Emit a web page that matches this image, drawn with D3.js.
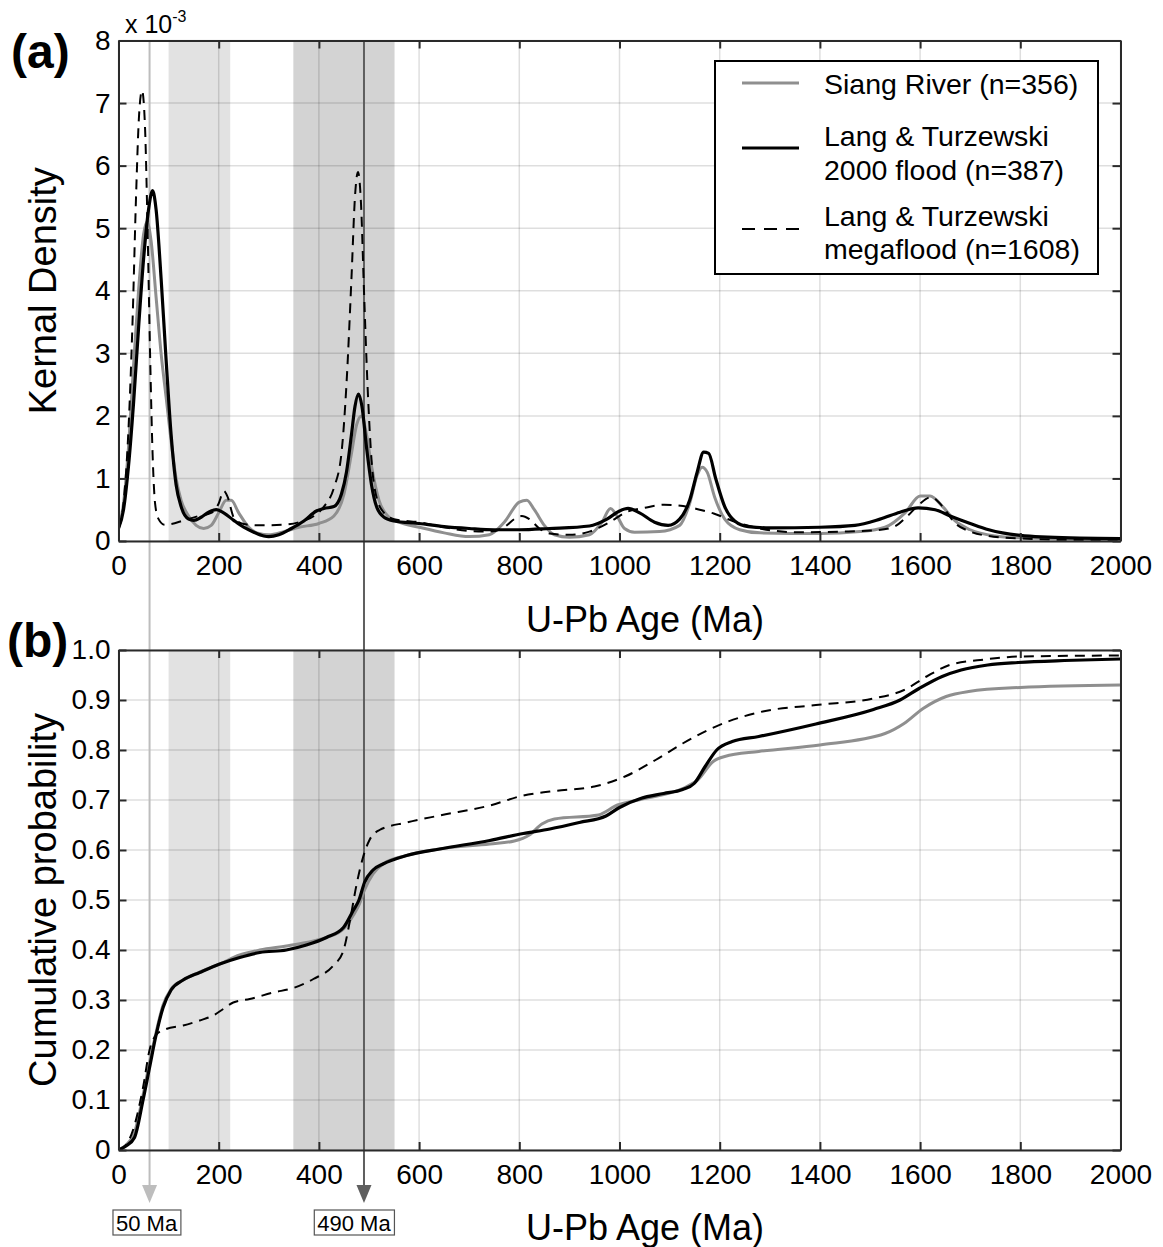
<!DOCTYPE html>
<html><head><meta charset="utf-8">
<script src="https://cdn.jsdelivr.net/npm/d3@7"></script>
<style>
body{margin:0;background:#fff;}
text{font-family:"Liberation Sans",Arial,Helvetica,sans-serif;fill:#000;}
</style>
</head><body>
<svg id="c" width="1163" height="1247"></svg>
<script>
// ---------- data ----------
const xTickValues = [0,200,400,600,800,1000,1200,1400,1600,1800,2000];
const kdeTickValues = [0,1,2,3,4,5,6,7,8];
const cdfTickValues = [0,0.1,0.2,0.3,0.4,0.5,0.6,0.7,0.8,0.9,1.0];
const cdfTickLabels = ["0","0.1","0.2","0.3","0.4","0.5","0.6","0.7","0.8","0.9","1.0"];
const bandStart = [100, 349];
const bandEnd = [223, 551];
const refAges = [62, 490];
const refLabels = ["50 Ma", "490 Ma"];
const seriesNames = ["Siang River (n=356)", "Lang & Turzewski\n2000 flood (n=387)", "Lang & Turzewski\nmegaflood (n=1608)"];

// Kernel density (x 10^-3)
const siangKdeAge = [0,10,20,30,40,50,57,65,75,85,95,105,115,125,140,155,170,185,200,215,225,240,260,280,300,330,360,400,430,450,465,475,485,495,505,520,540,560,600,650,700,740,770,800,815,830,850,870,900,940,965,982,995,1010,1030,1080,1120,1140,1155,1165,1175,1190,1210,1240,1280,1400,1480,1530,1570,1600,1620,1645,1670,1700,1750,1800,1900,2000];
const siangKde    = [0.2,0.6,1.5,2.8,4.0,4.9,5.1,4.8,3.9,3.0,2.3,1.6,1.0,0.65,0.4,0.25,0.2,0.25,0.45,0.65,0.65,0.45,0.22,0.12,0.1,0.15,0.22,0.28,0.4,0.75,1.4,1.85,2.0,1.7,1.2,0.65,0.38,0.3,0.22,0.13,0.07,0.1,0.3,0.62,0.65,0.5,0.25,0.1,0.06,0.1,0.3,0.52,0.4,0.2,0.14,0.15,0.25,0.6,1.05,1.18,1.1,0.7,0.35,0.18,0.13,0.12,0.15,0.22,0.45,0.72,0.72,0.55,0.32,0.18,0.08,0.05,0.03,0.02];

const floodKdeAge = [0,10,20,30,40,50,60,68,75,85,95,105,115,125,140,150,165,180,195,210,230,250,270,290,300,320,345,370,395,410,430,445,455,465,472,479,486,495,505,515,530,550,600,650,700,750,800,860,940,975,1000,1017,1040,1070,1097,1120,1140,1155,1168,1178,1192,1210,1230,1257,1300,1400,1470,1520,1560,1596,1630,1660,1700,1737,1800,1900,2000];
const floodKde    = [0.2,0.5,1.2,2.2,3.4,4.5,5.3,5.6,5.3,4.2,2.9,1.7,0.9,0.55,0.35,0.33,0.38,0.46,0.5,0.45,0.33,0.22,0.14,0.08,0.07,0.1,0.2,0.32,0.48,0.52,0.55,0.75,1.1,1.7,2.15,2.35,2.15,1.5,0.9,0.55,0.38,0.32,0.28,0.23,0.2,0.18,0.18,0.2,0.24,0.35,0.48,0.52,0.45,0.3,0.25,0.35,0.65,1.1,1.42,1.4,1.0,0.55,0.32,0.23,0.21,0.22,0.25,0.35,0.46,0.53,0.5,0.4,0.28,0.18,0.09,0.05,0.04];

const megaKdeAge = [0,10,20,28,35,41,47,53,58,63,68,73,80,92,105,130,160,185,200,210,218,230,250,280,330,360,390,410,430,445,455,465,472,478,484,490,497,505,515,530,550,600,650,700,740,770,790,805,820,840,860,900,940,980,1013,1050,1089,1127,1160,1188,1226,1280,1356,1450,1508,1546,1575,1600,1622,1645,1668,1700,1737,1800,1900,2000];
const megaKde    = [0.2,0.6,1.8,3.5,5.5,6.8,7.2,6.6,5.0,3.0,1.4,0.6,0.35,0.26,0.27,0.33,0.4,0.45,0.6,0.8,0.7,0.38,0.27,0.25,0.26,0.3,0.4,0.55,0.85,1.4,2.5,4.2,5.5,5.9,5.4,4.0,2.5,1.3,0.7,0.45,0.35,0.3,0.22,0.16,0.15,0.22,0.35,0.4,0.35,0.2,0.12,0.1,0.15,0.3,0.46,0.53,0.58,0.56,0.5,0.44,0.32,0.2,0.14,0.15,0.17,0.22,0.4,0.6,0.7,0.55,0.3,0.15,0.08,0.04,0.02,0.02];

// Cumulative probability
const siangCdfAge = [0,15,32,49,62,75,89,105,129,162,202,242,282,335,375,415,449,469,480,491,508,528,575,641,741,790,820,845,870,958,996,1042,1126,1156,1187,1210,1278,1400,1530,1568,1606,1652,1697,1800,2000];
const siangCdf    = [0,0.01,0.035,0.11,0.175,0.235,0.29,0.322,0.34,0.356,0.372,0.39,0.4,0.408,0.415,0.425,0.442,0.47,0.49,0.52,0.552,0.572,0.589,0.602,0.612,0.618,0.63,0.652,0.662,0.67,0.69,0.701,0.723,0.74,0.777,0.787,0.797,0.81,0.833,0.853,0.883,0.907,0.917,0.925,0.93];

const floodCdfAge = [0,15,32,49,62,75,89,105,129,162,202,242,282,335,375,415,449,469,480,491,508,528,575,641,741,808,861,920,973,1000,1042,1088,1126,1149,1171,1194,1225,1278,1392,1507,1560,1598,1644,1682,1735,1796,1888,2000];
const floodCdf    = [0,0.008,0.025,0.1,0.165,0.23,0.285,0.32,0.34,0.355,0.372,0.385,0.395,0.4,0.41,0.425,0.445,0.48,0.5,0.535,0.56,0.572,0.589,0.602,0.619,0.633,0.642,0.655,0.668,0.685,0.703,0.713,0.721,0.733,0.767,0.8,0.817,0.827,0.852,0.881,0.9,0.923,0.947,0.96,0.97,0.975,0.979,0.982];

const megaCdfAge = [0,15,29,49,62,75,95,129,162,189,209,229,262,309,349,389,429,449,462,475,488,501,521,575,641,741,808,861,950,1011,1072,1126,1179,1217,1286,1392,1507,1568,1613,1659,1720,1800,2000];
const megaCdf    = [0,0.01,0.04,0.125,0.2,0.23,0.242,0.249,0.259,0.269,0.282,0.295,0.302,0.315,0.324,0.342,0.369,0.399,0.459,0.53,0.585,0.62,0.64,0.655,0.669,0.689,0.709,0.717,0.727,0.747,0.78,0.813,0.841,0.857,0.877,0.89,0.903,0.92,0.947,0.97,0.98,0.987,0.989];

// ---------- styles ----------
const seriesStyle = [
  {color:"#8f8f8f", width:3, dash:null},
  {color:"#000", width:3.2, dash:null},
  {color:"#000", width:2, dash:"10,7"}
];
const refColors = ["#bdbdbd","#5f5f5f"];

// ---------- layout ----------
const svg = d3.select("#c");
const L = 118.5, R = 1120.5;
const aTop = 40.5, aBot = 541;
const bTop = 650, bBot = 1150;
const x = d3.scaleLinear([0,2000],[L,R]);
const yA = d3.scaleLinear([0,8],[aBot,aTop]);
const yB = d3.scaleLinear([0,1],[bBot,bTop]);

const defs = svg.append("defs");
defs.append("clipPath").attr("id","clipA").append("rect").attr("x",L).attr("y",aTop).attr("width",R-L).attr("height",aBot-aTop);
defs.append("clipPath").attr("id","clipB").append("rect").attr("x",L).attr("y",bTop).attr("width",R-L).attr("height",bBot-bTop);

function panelBackground(y, top, bot, yTicks){
  const g = svg.append("g");
  bandStart.forEach((s,i)=>{
    g.append("rect").attr("x",x(s)).attr("y",top).attr("width",x(bandEnd[i])-x(s)).attr("height",bot-top)
      .attr("fill", i===0 ? "#e2e2e2" : "#d3d3d3");
  });
  xTickValues.forEach(v=>{
    g.append("line").attr("x1",x(v)).attr("x2",x(v)).attr("y1",top).attr("y2",bot)
      .attr("stroke","#000").attr("stroke-opacity",0.13).attr("stroke-width",1.5);
  });
  yTicks.forEach(v=>{
    g.append("line").attr("x1",L).attr("x2",R).attr("y1",y(v)).attr("y2",y(v))
      .attr("stroke","#000").attr("stroke-opacity",0.13).attr("stroke-width",1.5);
  });
}
panelBackground(yA, aTop, aBot, kdeTickValues);
panelBackground(yB, bTop, bBot, cdfTickValues);

// reference lines + arrows
const arrowTip = 1203, arrowBase = 1185;
const labelShift = [-3, -10];
refAges.forEach((a,i)=>{
  const xx = x(a);
  svg.append("line").attr("x1",xx).attr("x2",xx).attr("y1",aTop).attr("y2",arrowBase+2)
    .attr("stroke",refColors[i]).attr("stroke-width",2);
  svg.append("path").attr("d",`M${xx-7.5},${arrowBase}L${xx+7.5},${arrowBase}L${xx},${arrowTip}Z`).attr("fill",refColors[i]);
  const t = svg.append("text").attr("x",xx+labelShift[i]).attr("y",1230.5).attr("text-anchor","middle")
    .attr("font-size",22).text(refLabels[i]);
  const bb = t.node().getBBox();
  svg.insert("rect","text").attr("x",bb.x-3).attr("y",1210).attr("width",bb.width+6).attr("height",25)
    .attr("fill","#fff").attr("stroke","#555").attr("stroke-width",1.2);
});

// curves
function drawLines(ages, vals, y, clip, st){
  const data = ages.map((a,i)=>[a, vals[i]]);
  const line = d3.line().x(d=>x(d[0])).y(d=>y(d[1])).curve(d3.curveMonotoneX);
  svg.append("path").datum(data).attr("d",line).attr("fill","none")
    .attr("stroke",st.color).attr("stroke-width",st.width).attr("stroke-dasharray",st.dash)
    .attr("stroke-linejoin","round").attr("clip-path",`url(#${clip})`);
}
drawLines(siangKdeAge, siangKde, yA, "clipA", seriesStyle[0]);
drawLines(megaKdeAge, megaKde, yA, "clipA", seriesStyle[2]);
drawLines(floodKdeAge, floodKde, yA, "clipA", seriesStyle[1]);
drawLines(siangCdfAge, siangCdf, yB, "clipB", seriesStyle[0]);
drawLines(megaCdfAge, megaCdf, yB, "clipB", seriesStyle[2]);
drawLines(floodCdfAge, floodCdf, yB, "clipB", seriesStyle[1]);

// axes
function axes(y, top, bot, yTicks, yFmt){
  const gb = svg.append("g").attr("transform",`translate(0,${bot})`)
    .call(d3.axisBottom(x).tickValues(xTickValues).tickSizeInner(-8).tickSizeOuter(0).tickPadding(14).tickFormat(d3.format("d")));
  const gt = svg.append("g").attr("transform",`translate(0,${top})`)
    .call(d3.axisTop(x).tickValues(xTickValues).tickSizeInner(-8).tickSizeOuter(0).tickFormat(""));
  const gl = svg.append("g").attr("transform",`translate(${L},0)`)
    .call(d3.axisLeft(y).tickValues(yTicks).tickSizeInner(-8).tickSizeOuter(0).tickPadding(8).tickFormat(yFmt));
  const gr = svg.append("g").attr("transform",`translate(${R},0)`)
    .call(d3.axisRight(y).tickValues(yTicks).tickSizeInner(-8).tickSizeOuter(0).tickFormat(""));
  [gb,gt,gl,gr].forEach(g=>{
    g.select(".domain").attr("stroke","#2a2a2a").attr("stroke-width",2);
    g.selectAll(".tick line").attr("stroke","#2a2a2a").attr("stroke-width",2);
    g.selectAll("text").attr("font-size",28).attr("font-family","Liberation Sans, Arial, sans-serif").attr("fill","#000");
  });
}
axes(yA, aTop, aBot, kdeTickValues, d3.format("d"));
axes(yB, bTop, bBot, cdfTickValues, (d,i)=>cdfTickLabels[i]);

// titles
svg.append("text").attr("x",645).attr("y",632).attr("text-anchor","middle").attr("font-size",36).text("U-Pb Age (Ma)");
svg.append("text").attr("x",645).attr("y",1240).attr("text-anchor","middle").attr("font-size",36).text("U-Pb Age (Ma)");
svg.append("text").attr("transform",`translate(56,${(aTop+aBot)/2}) rotate(-90)`).attr("text-anchor","middle").attr("font-size",38).text("Kernal Density");
svg.append("text").attr("transform",`translate(56,${(bTop+bBot)/2}) rotate(-90)`).attr("text-anchor","middle").attr("font-size",38).text("Cumulative probability");
svg.append("text").attr("x",11).attr("y",68).attr("font-size",48).attr("font-weight","bold").text("(a)");
svg.append("text").attr("x",7).attr("y",657).attr("font-size",48).attr("font-weight","bold").text("(b)");
const ex = svg.append("text").attr("x",125).attr("y",33).attr("font-size",25);
ex.append("tspan").text("x 10");
ex.append("tspan").attr("font-size",16).attr("dy",-11).text("-3");

// legend
const lg = svg.append("g");
lg.append("rect").attr("x",715).attr("y",61).attr("width",383).attr("height",213).attr("fill","#fff").attr("stroke","#000").attr("stroke-width",2);
const legLineY = [83,148,229];
const legTextY = [[94],[146,180],[226,259]];
seriesNames.forEach((n,i)=>{
  const st = seriesStyle[i];
  lg.append("line").attr("x1",742).attr("x2",799).attr("y1",legLineY[i]).attr("y2",legLineY[i])
    .attr("stroke",st.color).attr("stroke-width",st.width).attr("stroke-dasharray", i===2 ? "13,9" : null);
  n.split("\n").forEach((s,j)=>{
    lg.append("text").attr("x",824).attr("y",legTextY[i][j]).attr("font-size",28.5).text(s);
  });
});
</script>
</body></html>
